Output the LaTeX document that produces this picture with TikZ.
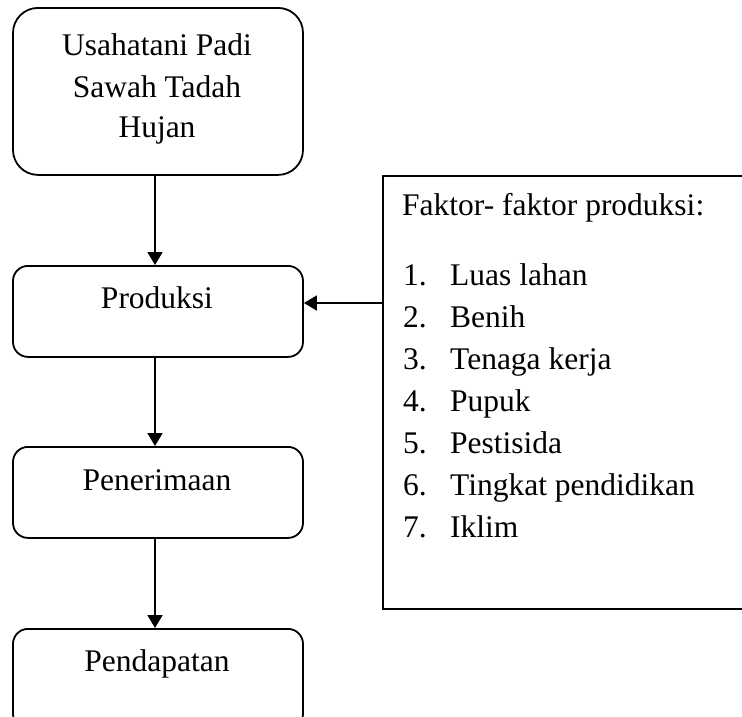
\documentclass[tikz,border=0pt]{standalone}
\usepackage{fontspec}
\setmainfont{Liberation Serif}
\usetikzlibrary{arrows.meta}
\begin{document}
\begin{tikzpicture}[x=1pt,y=1pt,
  box/.style={draw, line width=1.8pt, rounded corners=15pt, minimum width=290pt, inner sep=0pt},
  txt/.style={anchor=base, inner sep=0pt, font=\fontsize{31.5}{41}\selectfont},
  ltxt/.style={anchor=base west, inner sep=0pt, font=\fontsize{31.5}{41}\selectfont},
  arr/.style={line width=1.8pt, -{Triangle[length=13pt,width=15pt]}}]
\useasboundingbox (0,0) rectangle (742,-716);
\clip (0,0) rectangle (742,-716);
% boxes
\node[box, rounded corners=25pt, minimum height=167pt, anchor=north] (top) at (158,-7) {};
\node[box, minimum height=91pt, anchor=north] (prod) at (158,-265) {};
\node[box, minimum height=91pt, anchor=north] (pen) at (158,-446) {};
\node[box, minimum height=100pt, anchor=north] (pend) at (158,-628) {};
\node[draw, line width=1.8pt, minimum width=400pt, minimum height=433pt, anchor=north west, inner sep=0pt] (fak) at (382,-175) {};
% texts
\node[txt] (t1) at (157,-55) {Usahatani Padi};
\node[txt] (t2) at (157,-97) {Sawah Tadah};
\node[txt] (t3) at (157,-137) {Hujan};
\node[txt] (tp) at (157,-308) {Produksi};
\node[txt] (tn) at (157,-490) {Penerimaan};
\node[txt] (td) at (157,-671) {Pendapatan};
\node[ltxt] (fh) at (402,-215) {Faktor- faktor produksi:};
\foreach \n/\t [count=\i from 0] in {1/Luas lahan,2/Benih,3/Tenaga kerja,4/Pupuk,5/Pestisida,6/Tingkat pendidikan,7/Iklim}{
  \node[ltxt] (n\n) at (403,-285-42*\i) {\n.};
  \node[ltxt] (l\n) at (450,-285-42*\i) {\t};
}
% connectors
\draw[arr] ([xshift=-3pt]top.south) -- ([xshift=-3pt]prod.north);
\draw[arr] ([xshift=-3pt]prod.south) -- ([xshift=-3pt]pen.north);
\draw[arr] ([xshift=-3pt]pen.south) -- ([xshift=-3pt]pend.north);
\coordinate (ay) at (0,-303);
\draw[arr] (fak.west |- ay) -- (prod.east |- ay);
\end{tikzpicture}
\end{document}
